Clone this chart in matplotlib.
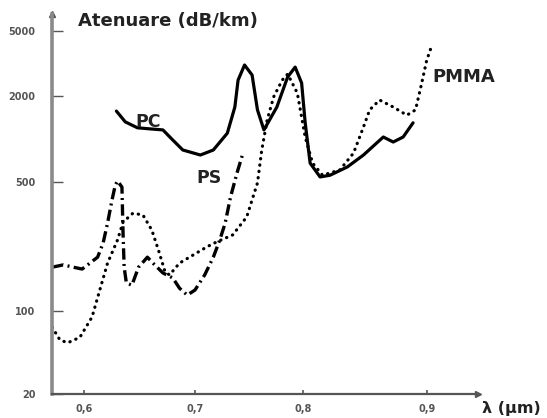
import numpy as np
import matplotlib
matplotlib.use("Agg")
from matplotlib import pyplot as plt
from matplotlib.ticker import FixedLocator, NullLocator

# tick values and where they sit on the original (hand drawn, uneven) axes
x_ticks = [0.6, 0.7, 0.8, 0.9]
x_tick_labels = ["0,6", "0,7", "0,8", "0,9"]
y_ticks = [20, 100, 500, 2000, 5000]
y_tick_labels = ["20", "100", "500", "2000", "5000"]
x_tick_pix = [84.3, 195, 302.7, 426.7]
y_tick_pix = [24, 107, 235.7, 322, 387.3]

# PC - solid
pc_x = [0.629, 0.637, 0.648, 0.659, 0.671, 0.680, 0.689, 0.705, 0.717, 0.730,
        0.737, 0.740, 0.746, 0.753, 0.758, 0.764, 0.776, 0.786, 0.793, 0.799,
        0.802, 0.806, 0.814, 0.822, 0.836, 0.849, 0.865, 0.873, 0.881, 0.889]
pc_y = [1570, 1320, 1200, 1180, 1160, 985, 840, 775, 840, 1100,
        1675, 2500, 3090, 2685, 1600, 1160, 1675, 2610, 3000, 2400,
        1300, 680, 545, 560, 640, 775, 1035, 955, 1035, 1300]

# PMMA - dotted
pmma_x = [0.571, 0.578, 0.585, 0.596, 0.607, 0.614, 0.621, 0.630, 0.635, 0.644,
          0.653, 0.661, 0.667, 0.673, 0.677, 0.686, 0.711, 0.720, 0.735, 0.748,
          0.758, 0.762, 0.767, 0.773, 0.781, 0.786, 0.795, 0.802, 0.808, 0.816,
          0.830, 0.841, 0.849, 0.854, 0.862, 0.873, 0.884, 0.891, 0.896, 0.900,
          0.904]
pmma_y = [73, 57, 54, 60, 89, 130, 182, 243, 304, 340,
          332, 275, 214, 163, 157, 182, 223, 237, 259, 324,
          496, 840, 1360, 1970, 2500, 2720, 2085, 1035, 680, 560,
          610, 800, 1215, 1600, 1875, 1675, 1470, 1600, 2400, 3300,
          4040]

# PS - dash dot
ps_x = [0.571, 0.581, 0.590, 0.598, 0.603, 0.612, 0.617, 0.621, 0.625, 0.628,
        0.630, 0.634, 0.635, 0.636, 0.638, 0.643, 0.649, 0.657, 0.662, 0.671,
        0.680, 0.686, 0.693, 0.700, 0.709, 0.717, 0.723, 0.728, 0.733, 0.739,
        0.744]
ps_y = [173, 178, 173, 169, 178, 196, 234, 300, 400, 483,
        511, 471, 265, 173, 142, 138, 173, 196, 182, 161,
        151, 133, 122, 130, 157, 196, 243, 300, 416, 581,
        774]


def lin_ext(v, a, b):
    v = np.asarray(v, dtype=float)
    out = np.interp(v, a, b)
    lo_slope = (b[1] - b[0]) / (a[1] - a[0])
    hi_slope = (b[-1] - b[-2]) / (a[-1] - a[-2])
    out = np.where(v < a[0], b[0] + (v - a[0]) * lo_slope, out)
    out = np.where(v > a[-1], b[-1] + (v - a[-1]) * hi_slope, out)
    return out


def x_fwd(v):
    return lin_ext(v, x_ticks, x_tick_pix)


def x_inv(p):
    return lin_ext(p, x_tick_pix, x_ticks)


log_ticks = np.log10(y_ticks)


def y_fwd(v):
    v = np.clip(np.asarray(v, dtype=float), 1e-3, None)
    return lin_ext(np.log10(v), log_ticks, y_tick_pix)


def y_inv(p):
    return 10 ** lin_ext(p, y_tick_pix, log_ticks)


fig = plt.figure(figsize=(5.47, 4.18), dpi=100)
ax = fig.add_axes([52 / 547, 24 / 418, (478 - 52) / 547, (404 - 24) / 418])
ax.set_xscale("function", functions=(x_fwd, x_inv))
ax.set_yscale("function", functions=(y_fwd, y_inv))

ax.plot(pc_x, pc_y, color="black", lw=2.3, solid_capstyle="round", solid_joinstyle="round")
ax.plot(pmma_x, pmma_y, color="black", lw=2.3, linestyle=(0, (0.1, 1.9)),
        dash_capstyle="round")
ax.plot(ps_x, ps_y, color="black", lw=2.4, linestyle=(0, (3.4, 1.3, 0.6, 1.3)))

ax.set_xlim(float(x_inv(52)), float(x_inv(478)))
ax.set_ylim(20, float(y_inv(404)))

ax.xaxis.set_major_locator(FixedLocator(x_ticks))
ax.xaxis.set_minor_locator(NullLocator())
ax.set_xticklabels(x_tick_labels)
ax.yaxis.set_major_locator(FixedLocator(y_ticks))
ax.yaxis.set_minor_locator(NullLocator())
ax.set_yticklabels(y_tick_labels)

for s in ["top", "right"]:
    ax.spines[s].set_visible(False)
ax.spines["left"].set_color("#8a8a8a")
ax.spines["left"].set_linewidth(2.6)
ax.spines["bottom"].set_color("#555555")
ax.spines["bottom"].set_linewidth(1.6)

ax.tick_params(axis="y", direction="in", length=8, width=1, color="#555555",
               labelsize=7, labelcolor="#555555", pad=12)
ax.tick_params(axis="x", direction="in", length=3, width=1.2, color="#555555",
               labelsize=7, labelcolor="#555555", pad=7)
for lab in ax.get_xticklabels() + ax.get_yticklabels():
    lab.set_fontweight("bold")

# axis arrows
ax.plot([0], [1], marker="^", color="#555555", ms=5, transform=ax.transAxes, clip_on=False)
ax.plot([1], [0], marker=">", color="#555555", ms=5, transform=ax.transAxes, clip_on=False)

fig.text(78 / 547, 1 - 21 / 418, "Atenuare (dB/km)", fontsize=13,
         fontweight="bold", va="center", ha="left", color="#222222")
fig.text(135 / 547, 1 - 122 / 418, "PC", fontsize=12.5, fontweight="bold", va="center", color="#222222")
fig.text(196 / 547, 1 - 178 / 418, "PS", fontsize=12.5, fontweight="bold", va="center", color="#222222")
fig.text(432 / 547, 1 - 77 / 418, "PMMA", fontsize=13, fontweight="bold", va="center", color="#222222")
fig.text(482 / 547, 1 - 408 / 418, "λ (µm)", fontsize=11.5, fontweight="bold", va="center", color="#222222")

fig.savefig("out.png", dpi=100)
